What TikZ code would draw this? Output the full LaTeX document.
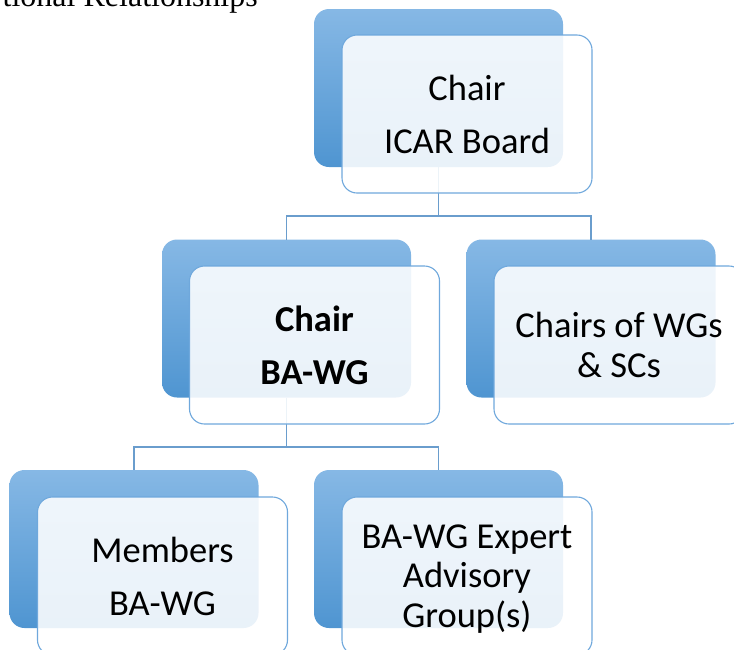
\documentclass[tikz,border=0pt]{standalone}
\usepackage{fontspec}
\setmainfont{Carlito}
\newfontfamily\serifhead{Liberation Serif}
\definecolor{backtop}{HTML}{86B8E5}
\definecolor{backbot}{HTML}{4F95D1}
\definecolor{frontline}{HTML}{6FA8DC}
\definecolor{conncol}{HTML}{6A9DCD}
\begin{document}
\begin{tikzpicture}[x=1pt,y=-1pt,
  backbox/.style={rectangle, rounded corners=15pt, minimum width=249pt, minimum height=158pt,
    inner sep=0pt, outer sep=0pt, top color=backtop, bottom color=backbot, draw=none},
  frontbox/.style={rectangle, rounded corners=15pt, minimum width=250pt, minimum height=158pt,
    inner sep=0pt, outer sep=0pt, fill=white, fill opacity=0.88, text opacity=1,
    draw=frontline, draw opacity=1, line width=1.1pt, align=center, text depth=0pt,
    font=\fontsize{36.5}{39.5}\selectfont},
  conn/.style={draw=conncol, line width=1.3pt}
]
\useasboundingbox (0,0) rectangle (734,649);
\clip (0,0) rectangle (734,649);
\node[anchor=base east, inner sep=0pt, font=\serifhead\fontsize{32}{36}\selectfont] (title) at (258,6) {tional Relationships};
% back boxes
\node[backbox] (b1) at (438.5,88) {};
\node[backbox] (b2) at (286.5,318.5) {};
\node[backbox] (b3) at (591,318.5) {};
\node[backbox] (b4) at (134,549) {};
\node[backbox] (b5) at (438.5,549) {};
% connectors
\coordinate (j1) at (438.5,216);
\coordinate (j2) at (286.5,447);
\draw[conn] (b1.south) -- (j1);
\draw[conn] (j1) -| (b2.north);
\draw[conn] (j1) -| (b3.north);
\draw[conn] (b2.south) -- (j2);
\draw[conn] (j2) -| (b4.north);
\draw[conn] (j2) -| (b5.north);
% front boxes
\node[frontbox] (f1) at (467,114) {Chair\\[13.5pt]ICAR Board};
\node[frontbox] (f2) at (314.5,345) {\bfseries Chair\\[13.5pt]\bfseries BA-WG};
\node[frontbox] (f3) at (619,345) {Chairs of WGs\\\& SCs};
\node[frontbox] (f4) at (162.5,576) {Members\\[13.5pt]BA-WG};
\node[frontbox] (f5) at (467,576) {BA-WG Expert\\Advisory\\Group(s)};
\end{tikzpicture}
\end{document}
